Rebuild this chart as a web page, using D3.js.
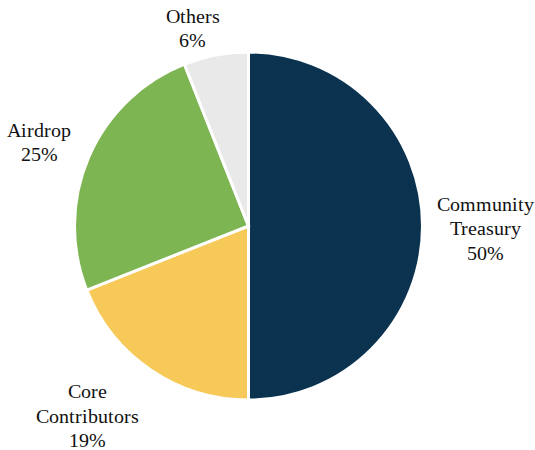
<!DOCTYPE html>
<html>
<head>
<meta charset="utf-8">
<script src="https://cdn.jsdelivr.net/npm/d3@7/dist/d3.min.js"></script>
<style>
  @font-face {
    font-family: "LabelSerif";
    src: local("Liberation Serif"), local("LiberationSerif"), local("Liberation Serif Regular"), local("LiberationSerif-Regular");
  }
</style>
</head>
<body style="margin:0">
<svg id="chart" width="535" height="450"></svg>
<script>
// Token allocation
const categories = ["Community Treasury", "Core Contributors", "Airdrop", "Others"];
const shares = [50, 19, 25, 6];
const labelLines = [["Community", "Treasury", "50%"], ["Core", "Contributors", "19%"], ["Airdrop", "25%"], ["Others", "6%"]];
const colors = ["#0b3350", "#f7c958", "#7eb553", "#e9e9e9"];

// Typography
const labelFonts = ["LabelSerif", "Liberation Serif", "Times New Roman", "Tinos"];
const labelFont = labelFonts.map(f => `"${f}"`).join(", ");

// Layout
const cx = 248.5, cy = 226, radius = 174;
const lineHeight = 24.5;
// label block centre, given as angle from 12 o'clock (deg) and distance from pie centre
const labelPolar = [[90.5, 237.5], [220.3, 249], [291.8, 225.6], [344.3, 205.6]];

const svg = d3.select("#chart");

const data = categories.map((c, i) => ({ name: c, value: shares[i], lines: labelLines[i], color: colors[i] }));

const pie = d3.pie().value(d => d.value).sort(null);
const arc = d3.arc().innerRadius(0).outerRadius(radius);
const arcs = pie(data);

// Slices
svg.append("g")
  .attr("transform", `translate(${cx},${cy})`)
  .selectAll("path")
  .data(arcs)
  .join("path")
  .attr("d", arc)
  .attr("fill", d => d.data.color)
  .attr("stroke", "#ffffff")
  .attr("stroke-width", 3);

// Label lines, one text element per line
const lineRows = [];
arcs.forEach((d, i) => {
  const a = labelPolar[i][0] * Math.PI / 180;
  const r = labelPolar[i][1];
  const n = d.data.lines.length;
  d.data.lines.forEach((line, k) => {
    lineRows.push({
      text: line,
      x: cx + r * Math.sin(a),
      y: cy - r * Math.cos(a) + (k - (n - 1) / 2) * lineHeight + 7
    });
  });
});

svg.selectAll("text")
  .data(lineRows)
  .join("text")
  .attr("x", d => d.x)
  .attr("y", d => d.y)
  .attr("text-anchor", "middle")
  .style("font-family", labelFont)
  .attr("font-size", 20)
  .attr("fill", "#111111")
  .text(d => d.text);
</script>
</body>
</html>
